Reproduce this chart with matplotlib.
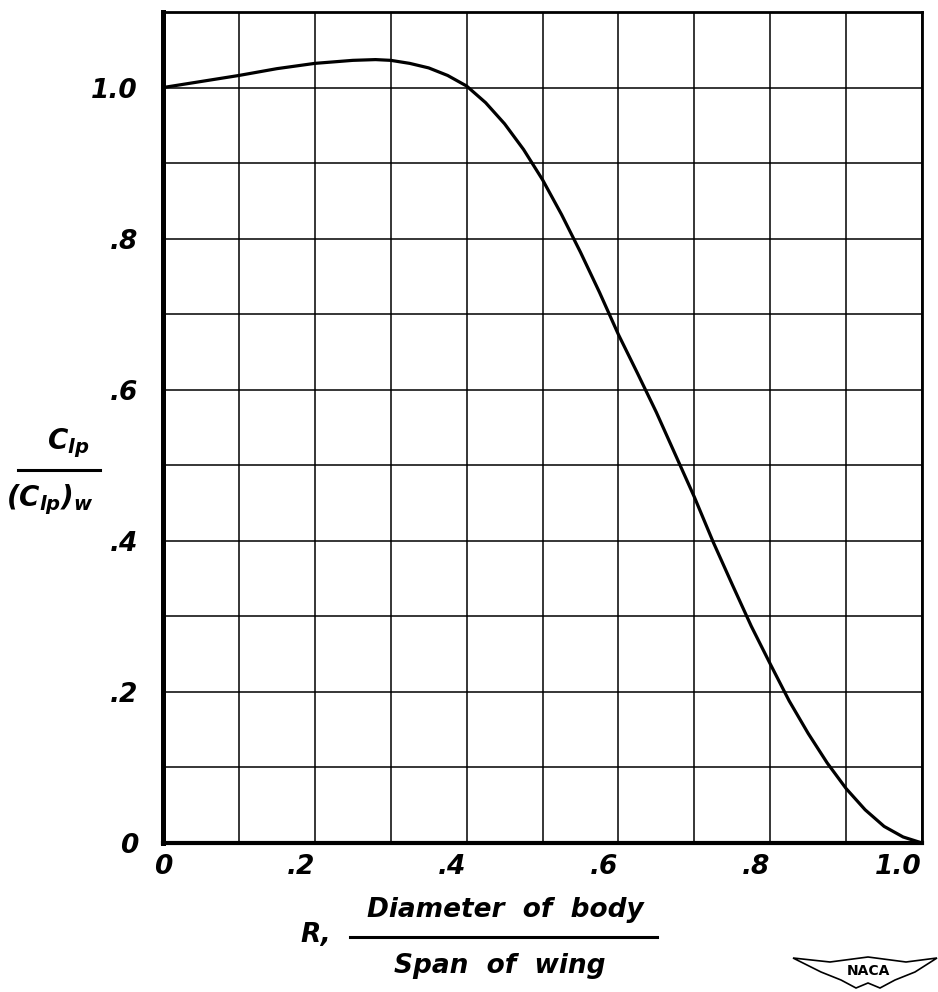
import matplotlib

matplotlib.use("Agg")
import matplotlib.pyplot as plt
from matplotlib.lines import Line2D
from matplotlib.patches import Polygon

# Curve: C_lp / (C_lp)_w against R = body diameter / wing span
ratio_r = [0.0, 0.05, 0.10, 0.15, 0.20, 0.25, 0.28, 0.30, 0.325, 0.35, 0.375,
           0.40, 0.425, 0.45, 0.475, 0.50, 0.525, 0.55, 0.575, 0.60, 0.625,
           0.65, 0.675, 0.70, 0.725, 0.75, 0.775, 0.80, 0.825, 0.85, 0.875,
           0.90, 0.925, 0.95, 0.975, 1.0]
clp_ratio = [1.000, 1.008, 1.016, 1.025, 1.032, 1.036, 1.037, 1.036, 1.032, 1.026, 1.016,
             1.002, 0.980, 0.952, 0.918, 0.878, 0.832, 0.782, 0.729, 0.673, 0.622,
             0.570, 0.514, 0.458, 0.398, 0.342, 0.287, 0.237, 0.188, 0.145, 0.106,
             0.072, 0.044, 0.022, 0.008, 0.000]

x_ticks = [0.0, 0.2, 0.4, 0.6, 0.8, 1.0]
x_tick_labels = ["0", ".2", ".4", ".6", ".8", "1.0"]
y_ticks = [0.0, 0.2, 0.4, 0.6, 0.8, 1.0]
y_tick_labels = ["0", ".2", ".4", ".6", ".8", "1.0"]
grid_steps = [i / 10 for i in range(12)]

plt.rcParams["font.family"] = ["DejaVu Sans"]
plt.rcParams["mathtext.fontset"] = "custom"
plt.rcParams["mathtext.it"] = "DejaVu Sans:italic:bold"
plt.rcParams["mathtext.rm"] = "DejaVu Sans:italic:bold"
plt.rcParams["mathtext.bf"] = "DejaVu Sans:italic:bold"

fig = plt.figure(figsize=(9.38, 9.92), dpi=100)
ax = fig.add_axes([0.1738, 0.1502, 0.8092, 0.8377])

ax.set_xlim(0, 1.0)
ax.set_ylim(0, 1.1)

# hand-drawn style grid every 0.1
for g in grid_steps:
    if 0 < g < 1.0 + 1e-9:
        ax.axvline(g, color="black", lw=1.1, zorder=1)
    if 0 < g < 1.1 - 1e-9:
        ax.axhline(g, color="black", lw=1.1, zorder=1)

ax.plot(ratio_r, clp_ratio, color="black", lw=2.3, solid_capstyle="round",
        solid_joinstyle="round", zorder=3)

for side, w in [("left", 3.6), ("bottom", 3.0), ("top", 2.0), ("right", 2.0)]:
    ax.spines[side].set_linewidth(w)
    ax.spines[side].set_color("black")

tick_font = dict(fontsize=19, fontstyle="italic", fontweight="bold")
ax.set_xticks(x_ticks)
ax.set_xticklabels(x_tick_labels, **tick_font)
ax.set_yticks(y_ticks)
ax.set_yticklabels(y_tick_labels, **tick_font)
ax.tick_params(axis="both", length=0)
ax.tick_params(axis="x", pad=8)
ax.tick_params(axis="y", pad=18)
for lab in ax.get_xticklabels()[1:]:
    lab.set_horizontalalignment("right")

# y-axis label drawn as a fraction
lab_kw = dict(fontsize=20, ha="center", va="center")
fig.text(68 / 938, 1 - 443 / 992, r"$C_{lp}$", **lab_kw)
fig.text(50 / 938, 1 - 500 / 992, r"$(C_{lp})_w$", **lab_kw)
fig.add_artist(Line2D([18 / 938, 100 / 938], [1 - 470 / 992, 1 - 470 / 992],
                      color="black", lw=2.2))

# x-axis label: R, Diameter of body / Span of wing
txt_kw = dict(fontsize=19, fontstyle="italic", fontweight="bold", va="center")
fig.text(300 / 938, 1 - 935 / 992, "R,", ha="left", **txt_kw)
fig.text(505 / 938, 1 - 910 / 992, "Diameter  of  body", ha="center", **txt_kw)
fig.text(500 / 938, 1 - 966 / 992, "Span  of  wing", ha="center", **txt_kw)
fig.add_artist(Line2D([350 / 938, 657 / 938], [1 - 937 / 992, 1 - 937 / 992],
                      color="black", lw=2.2))

# small NACA wing emblem in the corner
wing = [(793, 958), (830, 962), (868, 957), (906, 962), (937, 958),
        (915, 972), (895, 980), (880, 988), (868, 983), (856, 988),
        (841, 980), (821, 972)]
fig.add_artist(Polygon([(x / 938, 1 - y / 992) for x, y in wing], closed=True,
                       fill=False, edgecolor="black", lw=1.2,
                       transform=fig.transFigure))
fig.text(868 / 938, 1 - 971 / 992, "NACA", ha="center", va="center",
         fontsize=10, fontweight="bold")

fig.savefig("out.png", dpi=100, facecolor="white")
